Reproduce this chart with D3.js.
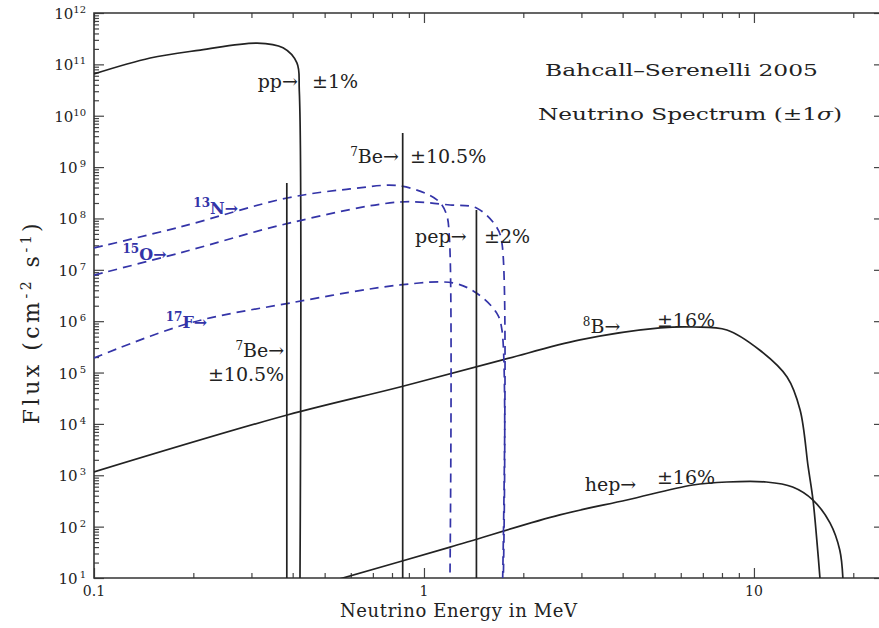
<!DOCTYPE html>
<html>
<head>
<meta charset="utf-8">
<script src="https://cdn.jsdelivr.net/npm/d3@7"></script>
<style>
body { margin: 0; background: #fff; }
svg { display: block; }
text { font-family: "DejaVu Serif", serif; fill: #222; }
</style>
</head>
<body>
<div id="chart"></div>
<script>
// spectra: energy in MeV, flux in cm^-2 s^-1 (MeV^-1 for continua)
var ppE   = [0.1, 0.148, 0.21, 0.312, 0.374, 0.412, 0.419, 0.421];
var ppF   = [6.5e10, 1.33e11, 1.9e11, 2.6e11, 2.1e11, 1.07e11, 3e10, 10];
var n13E  = [0.1, 0.182, 0.385, 0.597, 0.846, 1.095, 1.166, 1.195, 1.199];
var n13F  = [2.66e7, 6.8e7, 2.5e8, 3.75e8, 4.3e8, 2.3e8, 1.28e8, 3.8e7, 10];
var o15E  = [0.1, 0.182, 0.393, 0.846, 1.2, 1.442, 1.66, 1.723, 1.732];
var o15F  = [7.9e6, 2.13e7, 8.2e7, 2.09e8, 1.83e8, 1.6e8, 6.8e7, 3.3e7, 10];
var f17E  = [0.1, 0.195, 0.393, 0.846, 1.224, 1.442, 1.66, 1.723, 1.74];
var f17F  = [1.92e5, 9.2e5, 2.26e6, 5.07e6, 5.55e6, 3.54e6, 1.45e6, 6.75e5, 10];
var b8E   = [0.1, 0.385, 0.846, 1.73, 2.97, 5.19, 6.53, 8.28, 10.4, 12.6, 13.8, 14.6, 15.1, 15.6, 15.85];
var b8F   = [1.16e3, 1.49e4, 5.24e4, 1.76e5, 4.31e5, 7.38e5, 7.71e5, 6.75e5, 2.75e5, 8.2e4, 1.87e4, 1.45e3, 330, 35, 10];
var hepE  = [0.5, 1.2, 2.58, 4.12, 6.53, 8.28, 10.9, 13.1, 15.1, 17.0, 18.2, 18.6];
var hepF  = [7.9, 40, 169, 330, 647, 740, 740, 592, 330, 118, 35, 10];
// line sources: 7Be (two lines) and pep
var lineE = [0.384, 0.862, 1.442];
var lineF = [4.9e8, 4.6e9, 1.46e8];

var xMajor = [0.1, 1, 10];
var xMinor = [0.2,0.3,0.4,0.5,0.6,0.7,0.8,0.9, 2,3,4,5,6,7,8,9, 20];
var yExp = [1,2,3,4,5,6,7,8,9,10,11,12];

var black = "#222";
var blue = "#3434a8";

var width = 879, height = 628;
var x = d3.scaleLog().domain([0.1, 24.1]).range([94, 880]);
var y = d3.scaleLog().domain([10, 1e12]).range([578, 13]);

var svg = d3.select("#chart").append("svg")
    .attr("width", width)
    .attr("height", height);

svg.append("clipPath").attr("id", "plot")
  .append("rect")
    .attr("x", 94).attr("y", 13)
    .attr("width", 786).attr("height", 565);

var yMinor = [];
yExp.slice(0, 11).forEach(function (k) {
    for (var m = 2; m < 10; m++) yMinor.push(m * Math.pow(10, k));
});
var yMajor = yExp.map(function (k) { return Math.pow(10, k); });

function tickAxis(axis, pos, horizontal) {
    var g = svg.append("g")
        .attr("transform", horizontal ? "translate(0," + pos + ")" : "translate(" + pos + ",0)")
        .call(axis.tickFormat(""));
    g.select(".domain").remove();
    g.selectAll("line").attr("stroke", "#444").attr("stroke-width", 1.2);
}

// ticks point inward on all four sides
tickAxis(d3.axisTop(x).tickValues(xMajor).tickSize(10), 578, true);
tickAxis(d3.axisTop(x).tickValues(xMinor).tickSize(5), 578, true);
tickAxis(d3.axisBottom(x).tickValues(xMajor).tickSize(10), 13, true);
tickAxis(d3.axisBottom(x).tickValues(xMinor).tickSize(5), 13, true);
tickAxis(d3.axisRight(y).tickValues(yMajor).tickSize(10), 94, false);
tickAxis(d3.axisRight(y).tickValues(yMinor).tickSize(5), 94, false);
tickAxis(d3.axisLeft(y).tickValues(yMajor).tickSize(5), 879, false);

// frame
svg.append("path")
    .attr("d", "M880,13H94V578H880")
    .attr("fill", "none")
    .attr("stroke", "#333")
    .attr("stroke-width", 1.6);

// tick labels
var yl = svg.append("g").selectAll("text")
    .data(yExp).enter().append("text")
    .attr("x", 86)
    .attr("y", function (k) { return y(Math.pow(10, k)) + 6; })
    .attr("text-anchor", "end")
    .style("font-size", "15px");
yl.append("tspan").text("10");
yl.append("tspan")
    .attr("dy", -6)
    .style("font-size", "10px")
    .text(function (k) { return k < 10 ? "\u2009" + k : k; });

svg.append("g").selectAll("text")
    .data(xMajor).enter().append("text")
    .attr("x", function (d) { return x(d); })
    .attr("y", 596)
    .attr("text-anchor", "middle")
    .style("font-size", "14px")
    .text(function (d) { return d; });

// axis titles
svg.append("text")
    .attr("x", 340).attr("y", 617)
    .attr("textLength", 237)
    .attr("lengthAdjust", "spacing")
    .style("font-size", "18px")
    .text("Neutrino Energy in MeV");

var yt = svg.append("text")
    .attr("transform", "translate(39,322) rotate(-90)")
    .attr("text-anchor", "middle")
    .style("font-size", "22px")
    .style("letter-spacing", "3.5px");
yt.append("tspan").text("Flux (cm");
yt.append("tspan").attr("dy", -8).style("font-size", "14px").text("-2");
yt.append("tspan").attr("dy", 8).text(" s");
yt.append("tspan").attr("dy", -8).style("font-size", "14px").text("-1");
yt.append("tspan").attr("dy", 8).text(")");

svg.append("text")
    .attr("x", 545).attr("y", 76)
    .attr("textLength", 273)
    .attr("lengthAdjust", "spacingAndGlyphs")
    .style("font-size", "17px")
    .text("Bahcall\u2013Serenelli 2005");

var st = svg.append("text")
    .attr("x", 538).attr("y", 120)
    .attr("textLength", 304)
    .attr("lengthAdjust", "spacingAndGlyphs")
    .style("font-size", "17px");
st.append("tspan").text("Neutrino Spectrum (\u00b11");
st.append("tspan").style("font-style", "italic").text("\u03c3");
st.append("tspan").text(")");

// curves
var line = d3.line()
    .x(function (d) { return x(d[0]); })
    .y(function (d) { return y(d[1]); })
    .curve(d3.curveCatmullRom.alpha(0.5));

var curves = [
    { e: ppE,  f: ppF,  color: black, dash: null },
    { e: b8E,  f: b8F,  color: black, dash: null },
    { e: hepE, f: hepF, color: black, dash: null },
    { e: n13E, f: n13F, color: blue,  dash: "9,6" },
    { e: o15E, f: o15F, color: blue,  dash: "9,6" },
    { e: f17E, f: f17F, color: blue,  dash: "9,6" }
];

var plot = svg.append("g").attr("clip-path", "url(#plot)");

plot.selectAll(".curve")
    .data(curves).enter().append("path")
    .attr("class", "curve")
    .attr("d", function (c) { return line(d3.zip(c.e, c.f)); })
    .attr("fill", "none")
    .attr("stroke", function (c) { return c.color; })
    .attr("stroke-width", 1.7)
    .attr("stroke-dasharray", function (c) { return c.dash; });

plot.selectAll(".lineSrc")
    .data(d3.zip(lineE, lineF)).enter().append("line")
    .attr("class", "lineSrc")
    .attr("x1", function (d) { return x(d[0]); })
    .attr("x2", function (d) { return x(d[0]); })
    .attr("y1", function (d) { return y(d[1]); })
    .attr("y2", y(10))
    .attr("stroke", black)
    .attr("stroke-width", 1.7);

// annotations: [energy, flux, anchor, color, parts]
var notes = [
    [0.415, 3.5e10, "end",   black, [["pp\u2192"]]],
    [0.458, 3.5e10, "start", black, [["\u00b11%"]]],
    [0.84,  1.2e9,  "end",   black, [["7", 1], ["Be\u2192"]]],
    [0.907, 1.2e9,  "start", black, [["\u00b110.5%"]]],
    [0.2,   1.22e8, "start", blue,  [["13", 1], ["N\u2192"]]],
    [0.122, 1.55e7, "start", blue,  [["15", 1], ["O\u2192"]]],
    [0.165, 7.4e5,  "start", blue,  [["17", 1], ["F\u2192"]]],
    [0.377, 2.0e5,  "end",   black, [["7", 1], ["Be\u2192"]]],
    [0.377, 6.9e4,  "end",   black, [["\u00b110.5%"]]],
    [0.94,  3.3e7,  "start", black, [["pep\u2192"]]],
    [1.52,  3.3e7,  "start", black, [["\u00b12%"]]],
    [3.03,  5.9e5,  "start", black, [["8", 1], ["B\u2192"]]],
    [5.08,  7.7e5,  "start", black, [["\u00b116%"]]],
    [3.07,  494,    "start", black, [["hep\u2192"]]],
    [5.08,  676,    "start", black, [["\u00b116%"]]]
];

notes.forEach(function (n) {
    var isBlue = n[3] === blue;
    var t = svg.append("text")
        .attr("x", x(n[0]))
        .attr("y", y(n[1]))
        .attr("text-anchor", n[2])
        .style("font-size", isBlue ? "16px" : "19px")
        .style("font-weight", isBlue ? "bold" : "normal")
        .style("fill", n[3]);
    var up = false;
    n[4].forEach(function (p) {
        var s = t.append("tspan").text(p[0]);
        if (p[1]) { s.attr("dy", -7).style("font-size", "12px"); up = true; }
        else if (up) { s.attr("dy", 7); up = false; }
    });
});
</script>
</body>
</html>
